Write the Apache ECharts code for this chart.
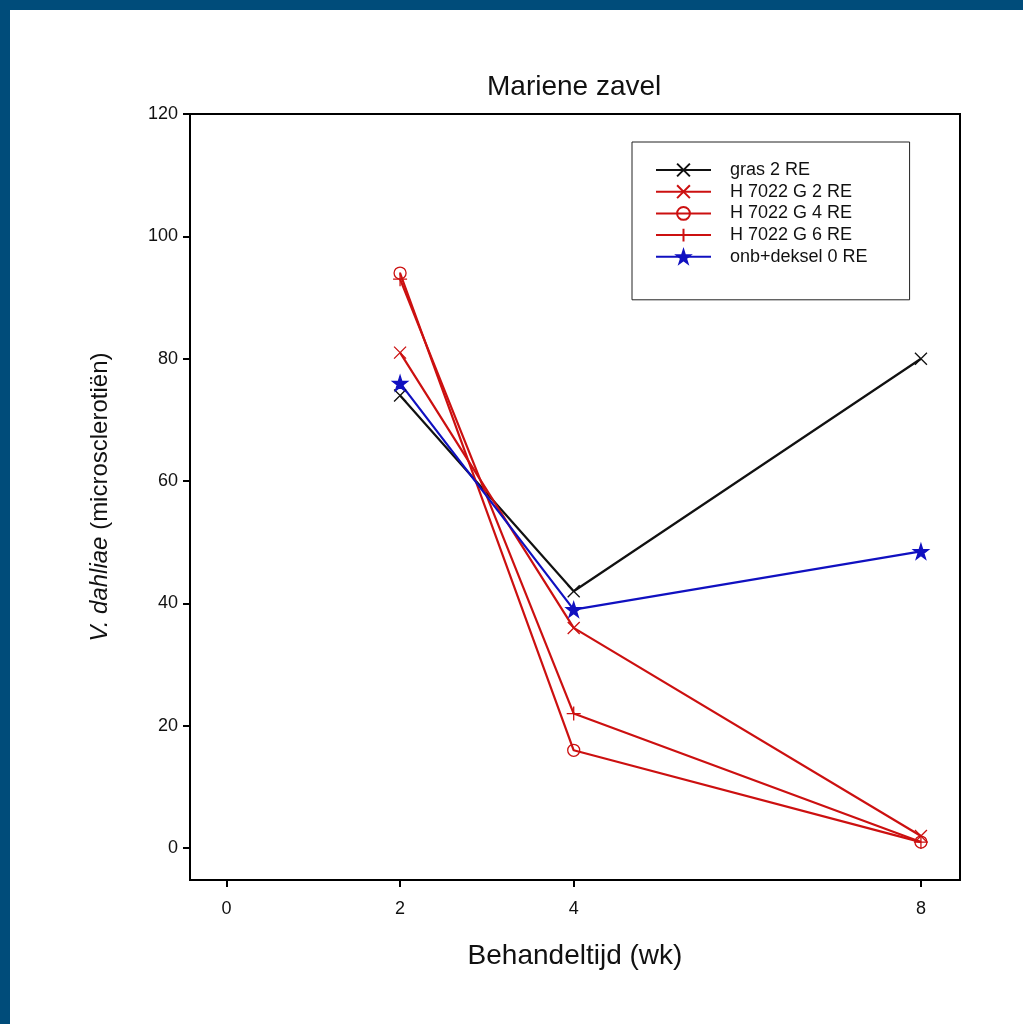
<!DOCTYPE html>
<html>
<head>
<meta charset="utf-8">
<script src="https://cdn.jsdelivr.net/npm/echarts@6/dist/echarts.min.js"></script>
<style>
  body { margin: 0; background: #fff; }
  #chart { position: absolute; left: 0; top: 0; width: 1023px; height: 1024px; }
  .edge { position: absolute; background: #004c7a; }
</style>
</head>
<body>
<div id="chart"></div>
<div class="edge" style="left:0;top:0;width:1023px;height:10px"></div>
<div class="edge" style="left:0;top:0;width:10px;height:1024px"></div>
<script>
// weken en tick labels
const weeks = [2, 4, 8]
const xTicks = [0, 2, 4, 8]
const yTicks = [0, 20, 40, 60, 80, 100, 120]

// microsclerotiën per behandeling
const gras2 = [74, 42, 80]
const h2 = [81, 36, 2]
const h4 = [94, 16, 1]
const h6 = [93, 22, 1]
const onb0 = [76, 39, 48.5]

const names = ['gras 2 RE', 'H 7022 G 2 RE', 'H 7022 G 4 RE', 'H 7022 G 6 RE', 'onb+deksel 0 RE']

const cross = 'path://M0,0L10,10M10,0L0,10'
const plus = 'path://M5,0L5,10M0,5L10,5'
const star = 'path://M5,0L6.2,3.6L10,3.6L6.9,5.9L8.1,9.5L5,7.3L1.9,9.5L3.1,5.9L0,3.6L3.8,3.6Z'

const font = 'Liberation Sans, Arial, sans-serif'
const red = '#cc1010'

const mk = (name, vals, color, symbol, size, fill) => ({
    name,
    type: 'line',
    data: vals.map((v, i) => [weeks[i], v]),
    symbol,
    symbolSize: size,
    lineStyle: { color, width: 2.2 },
    itemStyle: { color: fill, borderColor: color, borderWidth: 1.3 },
    emphasis: { disabled: true },
    z: 3
})

const chart = echarts.init(document.getElementById('chart'))
chart.setOption({
    animation: false,
    backgroundColor: '#fff',
    title: {
        text: 'Mariene zavel',
        left: 482,
        top: 68,
        textStyle: { fontFamily: font, fontSize: 28, fontWeight: 'normal', color: '#111' }
    },
    grid: { left: 190, right: 63, top: 114, bottom: 144, show: true, borderColor: '#000', borderWidth: 2 },
    legend: {
        orient: 'vertical',
        left: 632,
        top: 142,
        padding: [19, 42, 34, 23],
        itemWidth: 55,
        itemHeight: 16,
        itemGap: 3.7,
        borderColor: '#222',
        borderWidth: 1,
        backgroundColor: '#fff',
        textStyle: { fontFamily: font, fontSize: 18, lineHeight: 14, color: '#111', padding: [0, 0, 0, 14] },
        data: names
    },
    xAxis: {
        type: 'value',
        min: -0.42,
        max: 8.45,
        name: 'Behandeltijd (wk)',
        nameLocation: 'middle',
        nameGap: 62,
        nameTextStyle: { fontFamily: font, fontSize: 28, color: '#111' },
        axisLine: { onZero: false, lineStyle: { color: '#000', width: 2 } },
        axisTick: { show: true, length: 7, lineStyle: { color: '#000', width: 2 }, customValues: xTicks },
        axisLabel: { fontFamily: font, fontSize: 18, color: '#111', margin: 20, customValues: xTicks },
        splitLine: { show: false }
    },
    yAxis: {
        type: 'value',
        min: -5.2,
        max: 120,
        name: '{i|V. dahliae} (microsclerotiën)',
        nameLocation: 'middle',
        nameGap: 78,
        nameTextStyle: {
            fontFamily: font, fontSize: 24, color: '#111',
            rich: { i: { fontFamily: font, fontSize: 24, fontStyle: 'italic', color: '#111' } }
        },
        axisLine: { onZero: false, lineStyle: { color: '#000', width: 2 } },
        axisTick: { show: true, length: 7, lineStyle: { color: '#000', width: 2 }, customValues: yTicks },
        axisLabel: { fontFamily: font, fontSize: 18, color: '#111', margin: 12, customValues: yTicks },
        splitLine: { show: false }
    },
    series: [
        mk(names[0], gras2, '#111', cross, 12, 'none'),
        mk(names[1], h2, red, cross, 12, 'none'),
        mk(names[2], h4, red, 'circle', 12, 'none'),
        mk(names[3], h6, red, plus, 14, 'none'),
        mk(names[4], onb0, '#1010c0', star, 15, '#1010c0')
    ]
})
</script>
</body>
</html>
